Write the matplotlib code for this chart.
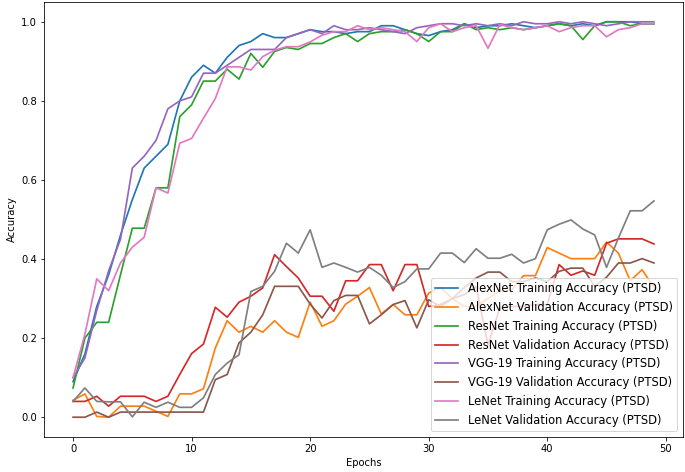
import matplotlib
matplotlib.use("Agg")
import matplotlib.pyplot as plt
import numpy as np

epochs = list(range(50))

alexnet_train = [0.09, 0.16, 0.28, 0.36, 0.46, 0.55, 0.63, 0.66, 0.69, 0.80,
                 0.86, 0.89, 0.87, 0.91, 0.94, 0.95, 0.97, 0.96, 0.96, 0.97,
                 0.98, 0.975, 0.975, 0.97, 0.975, 0.975, 0.99, 0.99, 0.98, 0.97,
                 0.965, 0.975, 0.98, 0.995, 0.985, 0.99, 0.99, 0.995, 0.99, 0.985,
                 0.99, 0.995, 0.99, 0.995, 0.99, 1.0, 1.0, 1.0, 0.995, 0.995]
alexnet_val = [0.043, 0.059, 0.002, 0.0, 0.028, 0.028, 0.028, 0.015, 0.002, 0.059,
               0.059, 0.072, 0.175, 0.244, 0.215, 0.230, 0.215, 0.244, 0.215, 0.202,
               0.291, 0.230, 0.244, 0.286, 0.306, 0.328, 0.261, 0.285, 0.259, 0.259,
               0.314, 0.328, 0.30, 0.28, 0.28, 0.30, 0.32, 0.322, 0.358, 0.358,
               0.429, 0.415, 0.401, 0.401, 0.401, 0.443, 0.415, 0.345, 0.373, 0.328]
resnet_train = [0.074, 0.20, 0.24, 0.24, 0.36, 0.478, 0.478, 0.58, 0.58, 0.76,
                0.79, 0.85, 0.85, 0.88, 0.855, 0.92, 0.885, 0.925, 0.935, 0.93,
                0.945, 0.945, 0.96, 0.97, 0.95, 0.97, 0.975, 0.975, 0.98, 0.97,
                0.95, 0.975, 0.975, 0.995, 0.98, 0.985, 0.98, 0.985, 0.98, 0.985,
                0.99, 0.995, 0.99, 0.955, 0.99, 1.0, 1.0, 0.99, 0.995, 0.995]
resnet_val = [0.040, 0.040, 0.053, 0.028, 0.053, 0.053, 0.053, 0.040, 0.053, 0.108,
              0.161, 0.185, 0.278, 0.253, 0.291, 0.306, 0.327, 0.411, 0.381, 0.352,
              0.306, 0.306, 0.268, 0.345, 0.345, 0.386, 0.386, 0.320, 0.386, 0.386,
              0.280, 0.285, 0.30, 0.31, 0.331, 0.183, 0.276, 0.28, 0.28, 0.285,
              0.285, 0.386, 0.359, 0.370, 0.359, 0.440, 0.451, 0.451, 0.451, 0.438]
vgg_train = [0.10, 0.15, 0.27, 0.37, 0.45, 0.63, 0.66, 0.70, 0.78, 0.80,
             0.81, 0.87, 0.87, 0.89, 0.91, 0.93, 0.93, 0.93, 0.96, 0.97,
             0.98, 0.97, 0.99, 0.98, 0.98, 0.985, 0.98, 0.975, 0.97, 0.985,
             0.99, 0.995, 0.995, 0.99, 0.995, 0.99, 0.995, 0.99, 1.0, 0.995,
             0.995, 1.0, 0.995, 1.0, 0.995, 0.99, 0.995, 1.0, 1.0, 1.0]
vgg_val = [0.0, 0.0, 0.013, 0.0, 0.013, 0.013, 0.013, 0.013, 0.013, 0.013,
           0.013, 0.013, 0.095, 0.108, 0.188, 0.215, 0.259, 0.331, 0.331, 0.331,
           0.286, 0.251, 0.295, 0.308, 0.308, 0.236, 0.259, 0.285, 0.295, 0.226,
           0.297, 0.28, 0.30, 0.328, 0.352, 0.367, 0.367, 0.343, 0.343, 0.352,
           0.343, 0.369, 0.377, 0.377, 0.331, 0.354, 0.390, 0.390, 0.401, 0.390]
lenet_train = [0.10, 0.21, 0.35, 0.32, 0.39, 0.43, 0.455, 0.58, 0.567, 0.693,
               0.705, 0.756, 0.806, 0.886, 0.886, 0.878, 0.912, 0.928, 0.937, 0.937,
               0.949, 0.966, 0.975, 0.975, 0.99, 0.98, 0.985, 0.98, 0.975, 0.95,
               0.985, 0.995, 0.975, 0.985, 0.99, 0.933, 0.993, 0.985, 0.98, 0.985,
               0.99, 0.975, 0.985, 0.99, 0.99, 0.962, 0.98, 0.985, 0.995, 0.995]
lenet_val = [0.040, 0.074, 0.040, 0.039, 0.039, 0.001, 0.038, 0.025, 0.038, 0.025,
             0.025, 0.049, 0.108, 0.137, 0.158, 0.318, 0.331, 0.369, 0.440, 0.415,
             0.474, 0.379, 0.390, 0.379, 0.367, 0.379, 0.359, 0.328, 0.343, 0.375,
             0.375, 0.415, 0.415, 0.391, 0.426, 0.402, 0.402, 0.412, 0.390, 0.401,
             0.474, 0.488, 0.499, 0.476, 0.461, 0.379, 0.453, 0.522, 0.522, 0.547]

series = [
    ("AlexNet Training Accuracy (PTSD)", alexnet_train),
    ("AlexNet Validation Accuracy (PTSD)", alexnet_val),
    ("ResNet Training Accuracy (PTSD)", resnet_train),
    ("ResNet Validation Accuracy (PTSD)", resnet_val),
    ("VGG-19 Training Accuracy (PTSD)", vgg_train),
    ("VGG-19 Validation Accuracy (PTSD)", vgg_val),
    ("LeNet Training Accuracy (PTSD)", lenet_train),
    ("LeNet Validation Accuracy (PTSD)", lenet_val),
]

dpi = 72
fig = plt.figure(figsize=(685 / dpi, 472 / dpi), dpi=dpi)
ax = fig.add_axes([44 / 685, (472 - 437) / 472, 639 / 685, 435 / 472])
for label, vals in series:
    ax.plot(epochs, vals, label=label, linewidth=1.7)
ax.set_xlabel("Epochs")
ax.set_ylabel("Accuracy")
ax.legend(loc="lower right", fontsize=11.5)
fig.savefig("out.png", dpi=dpi)
